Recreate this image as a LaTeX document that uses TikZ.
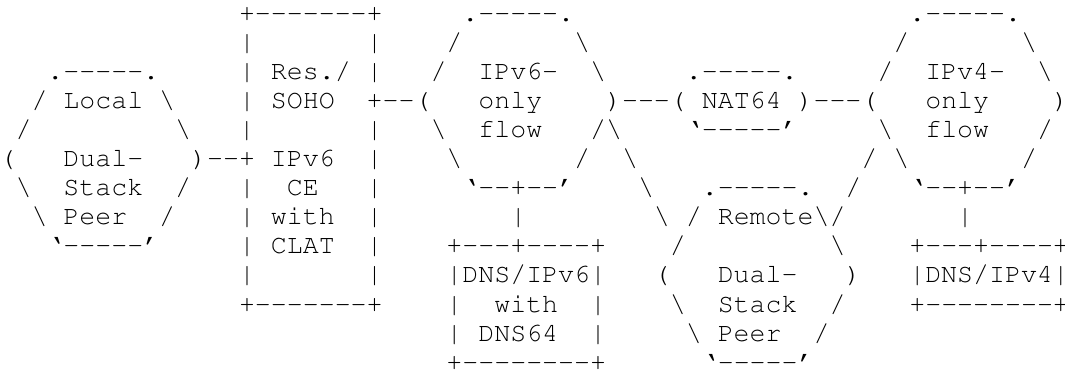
\documentclass[tikz,border=0pt]{standalone}
\usepackage[T1]{fontenc}
\usepackage{courier}
\newcommand\artfont{\ttfamily\fontsize{26.7pt}{29pt}\selectfont}
\newcommand\bs{\textbackslash}
\newcommand\sk[1]{\hspace*{#1\fontcharwd\font`x}}
\newcount\dcnt
\newcommand\dsh[1]{\dcnt=#1\relax\loop\ifnum\dcnt>0 -{}\advance\dcnt by -1 \repeat}
\tikzset{artline/.style={anchor=base west, inner sep=0pt, outer sep=0pt, font=\artfont, text=black}}
\begin{document}
\begin{tikzpicture}[x=1bp,y=1bp]
\useasboundingbox (0,0) rectangle (1065,-374);
\def\xo{-0.4}
\node[artline] (l1)  at (\xo,-21.0) {\sk{15}+\dsh{7}+\sk{5}.\dsh{5}.\sk{21}.\dsh{5}.};
\node[artline] (l2)  at (\xo,-50.1) {\sk{15}|\sk{7}|\sk{4}/\sk{7}\bs\sk{19}/\sk{7}\bs};
\node[artline] (l3)  at (\xo,-79.2) {\sk{3}.\dsh{5}.\sk{5}|\sk{1}Res./\sk{1}|\sk{3}/\sk{2}IPv6-\sk{2}\bs\sk{5}.\dsh{5}.\sk{5}/\sk{2}IPv4-\sk{2}\bs};
\node[artline] (l4)  at (\xo,-108.3) {\sk{2}/\sk{1}Local\sk{1}\bs\sk{4}|\sk{1}SOHO\sk{2}+\dsh{2}(\sk{3}only\sk{4})\dsh{3}(\sk{1}NAT64\sk{1})\dsh{3}(\sk{3}only\sk{4})};
\node[artline] (l5)  at (\xo,-137.4) {\sk{1}/\sk{9}\bs\sk{3}|\sk{7}|\sk{3}\bs\sk{2}f{}low\sk{3}/\bs\sk{4}`\dsh{5}'\sk{5}\bs\sk{2}f{}low\sk{3}/};
\node[artline] (l6)  at (\xo,-166.5) {(\sk{3}Dual-\sk{3})\dsh{2}+\sk{1}IPv6\sk{2}|\sk{4}\bs\sk{7}/\sk{2}\bs\sk{14}/\sk{1}\bs\sk{7}/};
\node[artline] (l7)  at (\xo,-195.6) {\sk{1}\bs\sk{2}Stack\sk{2}/\sk{3}|\sk{2}CE\sk{3}|\sk{5}`\dsh{2}+\dsh{2}'\sk{4}\bs\sk{3}.\dsh{5}.\sk{2}/\sk{3}`\dsh{2}+\dsh{2}'};
\node[artline] (l8)  at (\xo,-224.7) {\sk{2}\bs\sk{1}Peer\sk{2}/\sk{4}|\sk{1}with\sk{2}|\sk{8}|\sk{8}\bs\sk{1}/\sk{1}Remote\bs/\sk{7}|};
\node[artline] (l9)  at (\xo,-253.8) {\sk{3}`\dsh{5}'\sk{5}|\sk{1}CLAT\sk{2}|\sk{4}+\dsh{3}+\dsh{4}+\sk{4}/\sk{9}\bs\sk{4}+\dsh{3}+\dsh{4}+};
\node[artline] (l10) at (\xo,-282.9) {\sk{15}|\sk{7}|\sk{4}|DNS/IPv6|\sk{3}(\sk{3}Dual-\sk{3})\sk{3}|DNS/IPv4|};
\node[artline] (l11) at (\xo,-312.0) {\sk{15}+\dsh{7}+\sk{4}|\sk{2}with\sk{2}|\sk{4}\bs\sk{2}Stack\sk{2}/\sk{4}+\dsh{8}+};
\node[artline] (l12) at (\xo,-341.1) {\sk{28}|\sk{1}DNS64\sk{2}|\sk{5}\bs\sk{1}Peer\sk{2}/};
\node[artline] (l13) at (\xo,-370.2) {\sk{28}+\dsh{8}+\sk{6}`\dsh{5}'};
\end{tikzpicture}
\end{document}
